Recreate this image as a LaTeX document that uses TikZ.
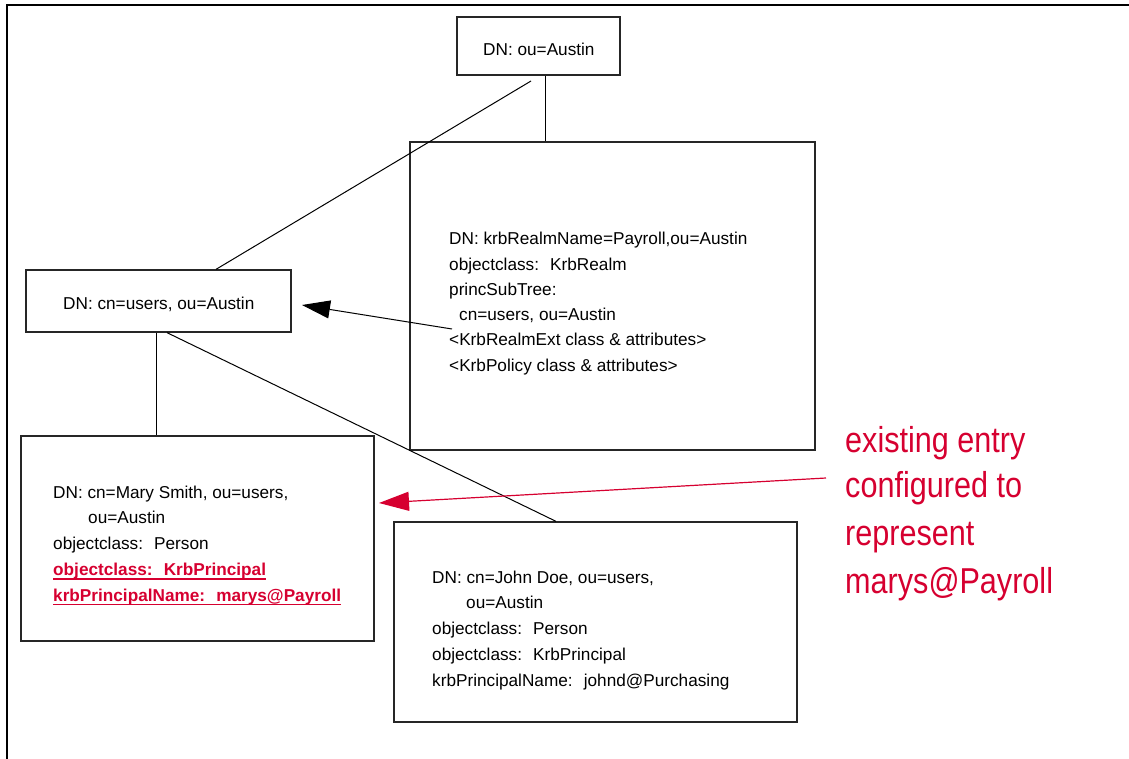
\documentclass[tikz,border=0pt]{standalone}
\usepackage{fontspec}
\setmainfont{Liberation Sans}
\newfontfamily\notefont[FakeStretch=0.85]{Liberation Sans}
\usetikzlibrary{arrows.meta,calc}
\definecolor{notered}{RGB}{214,0,48}
\tikzset{
  entry/.style={draw=black!85, line width=1.3pt, inner sep=0pt, fill=none},
  txt/.style={inner sep=0pt, anchor=base west, font=\fontsize{17.2}{20}\selectfont},
  redtxt/.style={txt, text=notered, font=\fontsize{17.2}{20}\selectfont\bfseries},
  note/.style={inner sep=0pt, anchor=base west, text=notered, font=\notefont\fontsize{36}{47}\selectfont},
  link/.style={draw=black, line width=1pt},
  pointer/.style={draw=black, line width=1pt, -{Triangle[length=28pt,width=18pt]}},
  redpointer/.style={draw=notered, line width=1.2pt, -{Triangle[length=30pt,width=19pt]}},
}
\begin{document}
\begin{tikzpicture}[x=1pt,y=-1pt]
\useasboundingbox (0,0) rectangle (1129,759);
% frame (left and top edges only)
\draw[line width=2pt] (6.5,759) -- (6.5,5.5) -- (1129,5.5);

% directory entries
\node[entry, minimum width=163pt, minimum height=58pt] (austin) at (538.5,46) {};
\node[entry, minimum width=265pt, minimum height=62pt] (users) at (158.5,301) {};
\node[entry, minimum width=405pt, minimum height=308pt] (realm) at (612.5,296) {};
\node[entry, minimum width=353pt, minimum height=205pt] (mary) at (197.5,538.5) {};
\node[entry, minimum width=403pt, minimum height=200pt] (john) at (595.5,622) {};

% entry texts
\node[txt] (austin-1) at (483,56) {DN: ou=Austin};
\node[txt] (users-1) at (63,309) {DN: cn=users, ou=Austin};

\foreach \t [count=\i] in {
  {DN: krbRealmName=Payroll,ou=Austin},
  {objectclass:~ KrbRealm},
  {princSubTree:},
  {\hspace*{10pt}cn=users, ou=Austin},
  {<KrbRealmExt class \& attributes>},
  {<KrbPolicy class \& attributes>}}
  \node[txt] (realm-\i) at (449,{245+25.2*(\i-1)}) {\t};

\node[txt] (mary-1) at (53,498) {DN: cn=Mary Smith, ou=users,};
\node[txt] (mary-2) at (88,523.75) {ou=Austin};
\node[txt] (mary-3) at (53,549.5) {objectclass:~ Person};
\node[redtxt] (mary-4) at (53,575.25) {objectclass:~ KrbPrincipal};
\node[redtxt] (mary-5) at (53,601) {krbPrincipalName:~ marys@Payroll};
\foreach \n in {mary-4,mary-5}
  \draw[notered, line width=1.6pt] ([yshift=-3.5pt]\n.base west) -- ([yshift=-3.5pt]\n.base east);

\node[txt] (john-1) at (432,583) {DN: cn=John Doe, ou=users,};
\node[txt] (john-2) at (466,608.75) {ou=Austin};
\node[txt] (john-3) at (432,634.5) {objectclass:~ Person};
\node[txt] (john-4) at (432,660.25) {objectclass:~ KrbPrincipal};
\node[txt] (john-5) at (432,686) {krbPrincipalName:~ johnd@Purchasing};

% annotation
\node[note] (note-1) at (845,452) {existing entry};
\node[note] (note-2) at (845,497) {configured to};
\node[note] (note-3) at (845,545) {represent};
\node[note] (note-4) at (845,593) {marys@Payroll};

% tree links
\coordinate (austinfoot) at (531,81);
\draw[link] (austinfoot) -- (216,0 |- users.north);
\draw[link] (545,0 |- austin.south) -- (545,0 |- realm.north);
\draw[link] (156,0 |- users.south) -- (156,0 |- mary.north);
\draw[link] (167,0 |- users.south) -- (556,0 |- john.north);

% pointers
\coordinate (subtree) at (452,329);
\coordinate (usertip) at (302,305);
\draw[pointer] (subtree) -- (usertip);
\coordinate (notefoot) at (826,478);
\coordinate (marytip) at (379,503);
\draw[redpointer] (notefoot) -- (marytip);
\end{tikzpicture}
\end{document}
